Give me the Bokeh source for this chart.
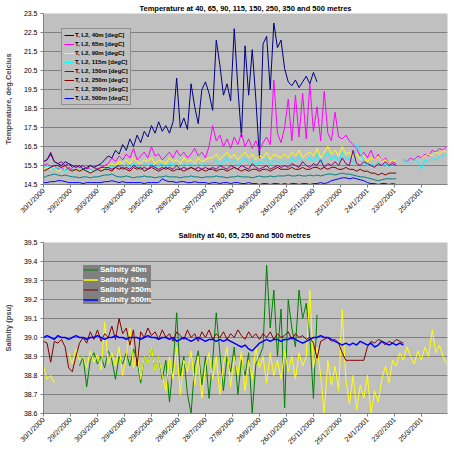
import math
from datetime import date

from bokeh.embed import file_html
from bokeh.layouts import column
from bokeh.models import (FixedTicker, Legend, LegendItem,
                          NumeralTickFormatter, Range1d)
from bokeh.plotting import figure
from bokeh.resources import INLINE

# ---------------------------------------------------------------- data
START = date(2000, 1, 30)          # day 0 of the record
STEP = 4                           # days between plotted samples

date_labels = ["30/1/2000", "29/2/2000", "30/3/2000", "29/4/2000", "29/5/2000",
               "28/6/2000", "28/7/2000", "27/8/2000", "26/9/2000", "26/10/2000",
               "25/11/2000", "25/12/2000", "24/1/2001", "23/2/2001", "25/3/2001"]

temp_ticks = [14.5, 15.5, 16.5, 17.5, 18.5, 19.5, 20.5, 21.5, 22.5, 23.5]
sal_ticks = [38.6, 38.7, 38.8, 38.9, 39.0, 39.1, 39.2, 39.3, 39.4, 39.5]

# temperature (degC), one sample every STEP days from day 0
t40 = [15.7, 15.8, 16.1, 15.7, 15.6, 15.5, 15.7, 15.6, 15.5, 15.4,
       15.5, 15.3, 15.4, 15.5, 15.4, 15.5, 15.6, 15.8, 16.0, 15.9,
       16.3, 16.1, 16.6, 16.3, 16.9, 16.5, 17.1, 16.7, 17.3, 17.0,
       17.6, 17.2, 17.8, 17.3, 17.6, 17.2, 17.8, 20.1, 17.5, 18.0,
       17.4, 19.8, 18.6, 17.7, 19.5, 19.9, 19.3, 18.4, 22.1, 20.8,
       19.2, 19.8, 18.9, 22.7, 19.6, 17.0, 21.8, 19.2, 21.6, 19.0,
       15.9, 21.9, 22.3, 19.5, 23.0, 21.7, 22.1, 20.6, 19.9, 19.7,
       20.0, 19.6, 19.9, 20.2, 19.8, 20.4, 19.9]

t65 = [15.5, 15.6, 15.4, 15.5, 15.3, 15.4, 15.2, 15.4, 15.3, 15.2, 15.3, 15.2, 15.4, 15.3, 15.2, 15.3, 15.4, 15.5,
       15.6, 15.9, 15.7, 16.0, 15.8, 16.1, 15.9, 16.4, 15.8, 16.0, 16.2, 15.9, 16.5, 16.0, 16.1, 15.8, 16.0,
       16.2, 15.9, 16.3, 16.0, 16.2, 15.9, 16.1, 16.4, 16.0, 16.2, 15.9, 16.5,
       17.6, 16.8, 17.1, 16.5, 16.9, 16.4, 17.0, 16.6, 17.2, 16.5, 16.9, 16.4, 16.8, 16.3, 16.7, 17.0, 16.6,
       20.0, 17.2, 16.7,
       17.5, 19.0, 16.8, 19.2, 17.0, 19.3, 16.9, 19.8, 17.3, 18.6, 16.8, 19.4, 17.2, 16.8, 18.3, 17.0,
       16.9, 17.1, 16.8, 16.6, 16.4, 16.0, 16.2, 15.9, 16.3, 15.8, 16.1, 15.7, 15.9, 15.6, 15.7, 15.6]
t65_tail_start = 400
t65_tail = [15.8, 15.7, 15.9, 15.8, 16.0, 15.9, 16.1, 16.0, 16.3, 16.2, 16.4, 16.3, 16.5]

t90 = [15.3, 15.4, 15.3, 15.4, 15.2, 15.3, 15.2, 15.3, 15.2, 15.2, 15.3, 15.2, 15.3, 15.2, 15.2, 15.3, 15.3, 15.4,
       15.5, 15.6, 15.5, 15.7, 15.6, 15.8, 15.6, 15.9, 15.7, 15.6, 15.8, 15.7, 15.9, 15.6, 15.8, 15.7, 15.6,
       15.9, 15.7, 15.8, 15.6, 15.9, 15.7, 15.8, 15.6, 15.9, 15.7, 15.8, 15.9,
       15.9, 16.1, 15.8, 16.0, 16.2, 15.9, 16.1, 15.8, 16.0, 16.2, 15.9, 16.1, 15.8, 16.0, 15.9, 16.2, 15.8,
       16.1, 16.0, 15.9,
       16.1, 15.9, 16.2, 16.0, 16.3, 15.9, 16.1, 16.2, 16.0, 16.4, 15.9, 16.2, 16.5, 16.1, 16.3, 16.0,
       16.5, 16.1, 16.2, 15.9, 16.1, 15.8, 16.0, 15.7, 15.9, 15.8, 16.0, 15.7, 15.8, 15.6, 15.8, 15.7]
t90_tail_start = 420
t90_tail = [15.9, 16.0, 16.1, 16.0, 16.2, 16.1, 16.3, 16.2]

t115 = [15.4, 15.5, 15.4, 15.3, 15.4, 15.3, 15.2, 15.3, 15.2, 15.3, 15.2, 15.3, 15.2, 15.3, 15.2, 15.2, 15.3, 15.3,
        15.4, 15.5, 15.4, 15.5, 15.4, 15.6, 15.4, 15.6, 15.5, 15.4, 15.6, 15.5, 15.6, 15.4, 15.5, 15.6, 15.4,
        15.6, 15.5, 15.6, 15.4, 15.6, 15.5, 15.6, 15.4, 15.6, 15.5, 15.6, 15.6,
        15.6, 15.8, 15.5, 15.7, 15.9, 15.6, 15.8, 15.5, 15.7, 15.9, 15.6, 15.8, 15.5, 15.7, 15.6, 15.9, 15.5,
        15.8, 15.7, 15.6,
        15.8, 15.6, 15.9, 15.7, 16.0, 15.6, 15.8, 15.9, 15.7, 16.1, 15.6, 15.9, 16.2, 15.8, 16.0, 15.7,
        16.2, 15.8, 15.9, 15.6, 16.6, 16.3, 15.7, 15.5, 15.6, 15.5, 15.7, 15.5, 15.6, 15.4, 15.6, 15.5]
t115_tail_start = 400
t115_tail = [15.8, 15.7, 15.6, 15.8, 15.7, 15.3, 15.8, 15.7, 15.9, 15.8, 15.9, 16.0, 16.1]

t150 = [15.7, 15.8, 16.2, 15.7, 15.6, 15.7, 15.5, 15.6, 15.4, 15.5, 15.4, 15.5, 15.3, 15.5, 15.4, 15.3, 15.4, 15.4,
        15.4, 15.3, 15.4, 15.5, 15.3, 15.4, 15.3, 15.5, 15.4, 15.3, 15.4, 15.3, 15.5, 15.4, 15.3, 15.4, 15.3,
        15.4, 15.3, 15.5, 15.3, 15.4, 15.3, 15.4, 15.3, 15.4, 15.3, 15.4, 15.3,
        15.4, 15.3, 15.5, 15.4, 15.3, 15.5, 15.4, 15.3, 15.5, 15.4, 15.3, 15.6, 15.4, 15.3, 15.4, 15.5, 15.3,
        15.4, 15.5, 15.4,
        15.5, 15.4, 15.6, 15.5, 15.4, 15.7, 15.5, 15.4, 15.6, 15.5, 15.8, 15.4, 15.6, 15.5, 15.7, 15.5,
        15.9, 15.6, 15.5, 16.3, 15.6, 15.5, 15.7, 15.6, 15.5, 15.4, 15.6, 15.5, 15.7, 15.5, 15.6, 15.5]

t250 = [15.2, 15.3, 15.4, 15.5, 15.5, 15.4, 15.5, 15.3, 15.2, 15.3, 15.2, 15.3, 15.2, 15.1, 15.2, 15.3, 15.2, 15.3,
        15.3, 15.2, 15.4, 15.3, 15.4, 15.3, 15.2, 15.4, 15.3, 15.4, 15.2, 15.3, 15.4, 15.3, 15.2, 15.3, 15.4,
        15.3, 15.2, 15.3, 15.3, 15.2, 15.3, 15.4, 15.3, 15.2, 15.3, 15.2, 15.3,
        15.3, 15.2, 15.3, 15.3, 15.2, 15.3, 15.4, 15.3, 15.2, 15.3, 15.2, 15.3, 15.3, 15.2, 15.3, 15.3, 15.2,
        15.3, 15.4, 15.3,
        15.3, 15.3, 15.4, 15.3, 15.3, 15.4, 15.3, 15.3, 15.4, 15.4, 15.3, 15.4, 15.3, 15.4, 15.4, 15.3,
        15.3, 15.4, 15.3, 15.3, 15.2, 15.3, 15.2, 15.2, 15.1, 15.1, 15.0, 15.1, 15.0, 15.1, 15.1, 15.1]

t350 = [14.85, 14.95, 15.0, 15.05, 15.0, 14.95, 15.0, 14.95, 14.9, 14.9, 14.85, 14.9, 14.9, 14.85, 14.9, 14.9,
        14.95, 15.0,
        15.0, 15.05, 14.95, 14.9, 14.9, 14.95, 14.9, 14.85, 14.9, 14.9, 14.95, 14.9, 14.9, 14.85, 14.9, 14.9,
        14.95, 14.9, 14.9, 14.9, 14.85, 14.9, 14.9, 14.95, 14.9, 14.9, 14.85, 14.9, 14.9,
        14.9, 14.95, 14.9, 14.9, 14.85, 14.9, 14.9, 14.95, 14.9, 14.9, 14.9, 14.85, 14.9, 14.95, 14.9, 14.9,
        14.95, 14.9, 14.95, 14.95,
        14.95, 15.0, 14.95, 14.95, 15.0, 14.95, 14.95, 15.0, 14.95, 15.0, 14.95, 15.0, 15.05, 15.05, 15.0,
        15.05, 15.1, 15.05, 15.05, 15.0, 14.95, 14.9, 14.9, 14.85, 14.8, 14.75, 14.7, 14.75, 14.8, 14.8,
        14.8, 14.8]

t500 = [14.6, 14.6, 14.65, 14.65, 14.7, 14.7, 14.65, 14.6, 14.6, 14.6, 14.6, 14.55, 14.6, 14.6, 14.6, 14.6,
        14.6, 14.65,
        14.65, 14.7, 14.65, 14.6, 14.65, 14.6, 14.6, 14.6, 14.6, 14.6, 14.55, 14.6, 14.6, 14.6, 14.6, 14.8,
        14.7, 14.65, 14.65, 14.6, 14.65, 14.65, 14.6, 14.6, 14.65, 14.6, 14.6, 14.6, 14.55,
        14.6, 14.6, 14.55, 14.6, 14.6, 14.55, 14.6, 14.6, 14.55, 14.55, 14.6, 14.55, 14.55, 14.5, 14.55,
        14.55, 14.5, 14.55, 14.55, 14.5,
        14.55, 14.5, 14.55, 14.55, 14.5, 14.55, 14.55, 14.5, 14.55, 14.55, 14.6, 14.55, 14.6, 14.7, 14.75,
        14.8, 14.85, 14.85, 14.8, 14.85, 14.8, 14.75, 14.7, 14.6, 14.55, 14.55, 14.5, 14.55, 14.55, 14.5,
        14.55, 14.5]

# salinity (psu)
s40_start = 40
s40 = [38.85, 38.9, 38.74, 38.88, 38.92, 38.86, 38.9, 38.84, 38.93, 38.88, 38.78, 38.9, 38.86,
       38.92, 38.85, 38.94, 38.88, 38.76, 38.9, 38.86, 38.95, 38.82, 38.9, 38.78, 38.88, 38.66,
       38.85, 39.13, 38.8, 38.9, 38.7, 38.6, 38.85, 38.93, 38.75, 38.9, 38.68, 38.88, 39.13, 38.92,
       38.72, 38.9, 38.82, 38.95, 38.7, 38.88, 38.8, 38.92, 38.6, 38.86, 38.9, 38.95,
       39.38, 39.05, 39.25, 38.9, 39.15, 38.63, 39.2, 39.05, 38.95, 39.25, 39.1, 39.18, 39.0, 38.68,
       39.12]

s65_head = [38.85, 38.78, 38.8, 38.76]
s65_start = 28
s65 = [38.92, 38.86, 38.94, 38.88, 38.9, 38.84, 38.93, 38.87, 38.91, 38.83, 39.08, 38.86, 38.92,
       38.85, 38.95, 38.8, 38.9, 39.05, 38.84, 38.92, 38.78, 38.9, 38.86, 38.95, 38.82, 38.9, 38.8,
       38.72, 38.9, 38.78, 38.95, 38.7, 38.88, 38.82, 38.93, 38.75, 38.9, 38.68, 38.85, 38.92, 38.78,
       38.9, 38.7, 38.86, 38.95, 38.74,
       38.9, 38.8, 38.93, 38.72, 38.88, 38.78, 38.95, 38.84, 38.9, 38.76, 38.92, 38.8, 38.88, 38.78,
       38.93, 38.82,
       38.9, 38.78, 38.92, 38.85, 38.9, 39.25, 38.84, 38.95, 38.8,
       38.6, 38.88, 38.75, 38.85, 38.72, 39.15, 38.78, 38.65, 38.8, 38.62, 38.75, 38.68, 38.8, 38.6,
       38.72, 38.66, 38.78, 38.85, 38.76, 38.88,
       38.85, 38.92, 38.88, 38.95, 38.9, 38.86, 38.93, 38.88, 38.95, 38.9, 39.04, 38.92, 38.96, 38.9,
       38.86]

s250 = [38.98, 38.97, 38.87, 38.98, 38.97, 38.99, 38.95, 38.84, 38.82, 38.9, 38.97,
        39.0, 38.97, 39.03, 38.99, 39.04, 38.98, 39.02, 39.0, 39.06, 38.99, 39.1, 39.02, 39.05, 38.96,
        39.04, 38.85, 39.03, 39.0, 39.05, 39.01,
        39.03, 38.99, 39.04, 39.0, 39.02, 38.98, 39.03, 39.01, 38.99, 39.04, 39.0, 39.02, 38.98, 39.03,
        39.0, 39.04, 38.99, 39.02, 39.0, 39.03, 38.99, 39.02, 39.0, 39.04, 39.01, 38.99, 39.03, 39.0,
        39.02, 38.99,
        39.02, 39.0, 39.03, 38.99, 39.02, 39.0, 39.01, 39.03, 38.99, 39.02, 39.0, 39.01, 38.99, 39.0,
        38.97,
        38.89, 38.98, 38.99, 39.0, 38.98, 38.99, 38.97, 38.92, 38.88, 38.88, 38.88, 38.88, 38.88, 38.88,
        38.95, 38.98, 38.97, 38.99, 38.98, 38.96, 38.98, 38.97, 38.99, 38.98, 38.97]

s500 = [39.0, 39.01, 39.0, 38.99, 39.01, 39.0, 39.0, 38.99, 39.0, 39.01, 39.0, 39.0, 38.99, 39.0, 39.0,
        39.01, 39.0, 38.99, 39.0, 39.0, 39.01, 39.0, 39.0, 38.99, 39.0, 39.0, 39.0, 38.99, 39.0, 39.01,
        39.0,
        39.0, 38.99, 39.0, 39.0, 38.99, 39.0, 38.98, 38.99, 39.0, 38.99, 38.98, 38.99, 39.0, 38.99, 38.98,
        38.99, 38.99, 38.98, 38.99, 38.98, 38.99, 38.98,
        38.97, 38.96, 38.95, 38.96, 38.94, 38.93, 38.95, 38.97,
        38.98, 38.99, 38.98, 38.99, 38.99, 38.98, 38.99, 38.99, 39.0, 38.99, 38.98, 38.97, 38.98, 38.99,
        39.0, 39.0, 39.01, 39.0, 39.0, 38.99, 38.98, 38.97, 38.96, 38.97, 38.96,
        38.97, 38.96, 38.98, 38.97, 38.96, 38.97, 38.95, 38.96, 38.98, 38.97, 38.96, 38.97, 38.96, 38.97,
        38.96]


def to_day(label):
    d, m, y = (int(v) for v in label.split("/"))
    return (date(y, m, d) - START).days


def sample_days(start, vals):
    return [start + STEP * i for i in range(len(vals))]


tick_days = [to_day(s) for s in date_labels]
X_END = 449

# ---------------------------------------------------------------- styling
FONT = "Liberation Sans"
GRID = "#808080"
PLOT_BG = "#C0C0C0"


def base_figure(height, y_lo, y_hi, y_ticks, y_label, title, top, bottom, title_standoff):
    p = figure(width=454, height=height, output_backend="svg", toolbar_location=None,
               x_range=Range1d(0, X_END), y_range=Range1d(y_lo, y_hi),
               min_border_left=37, min_border_right=7,
               min_border_top=top, min_border_bottom=bottom)
    p.background_fill_color = PLOT_BG
    p.border_fill_color = "white"
    p.outline_line_color = None
    p.xgrid.grid_line_color = None
    p.ygrid.grid_line_color = GRID
    p.ygrid.ticker = FixedTicker(ticks=y_ticks)

    p.title.text = title
    p.title.align = "center"
    p.title.offset = -22
    p.title.standoff = title_standoff
    p.title.text_font = FONT
    p.title.text_font_size = "7.5px"
    p.title.text_font_style = "bold"
    p.title.text_color = "black"

    for ax in (p.xaxis[0], p.yaxis[0]):
        ax.axis_line_color = GRID
        ax.major_tick_line_color = GRID
        ax.major_tick_in = 0
        ax.major_tick_out = 3
        ax.minor_tick_line_color = None
        ax.major_label_text_font = FONT
        ax.major_label_text_font_size = "7px"
        ax.major_label_text_color = "black"

    p.yaxis.ticker = FixedTicker(ticks=y_ticks)
    p.yaxis.formatter = NumeralTickFormatter(format="0.0")
    p.yaxis.major_label_standoff = 3
    p.yaxis.axis_label = y_label
    p.yaxis.axis_label_text_font = FONT
    p.yaxis.axis_label_text_font_size = "7.5px"
    p.yaxis.axis_label_text_font_style = "bold"
    p.yaxis.axis_label_standoff = 8

    p.xaxis.ticker = FixedTicker(ticks=tick_days)
    p.xaxis.major_label_overrides = {d: s for d, s in zip(tick_days, date_labels)}
    p.xaxis.major_label_orientation = math.pi / 4
    p.xaxis.major_label_standoff = 2
    return p


# ---------------------------------------------------------------- temperature
pt = base_figure(225, 14.5, 23.5, temp_ticks, "Temperature, deg.Celcius",
                 "Temperature at 40, 65, 90, 115, 150, 250, 350 and 500 metres", 12, 41, 2)

temp_series = [
    ("T, L2, 40m [degC]", "#000080", [(0, t40)]),
    ("T, L2, 65m [degC]", "#FF00FF", [(0, t65), (t65_tail_start, t65_tail)]),
    ("T, L2, 90m [degC]", "#FFFF00", [(0, t90), (t90_tail_start, t90_tail)]),
    ("T, L2, 115m [degC]", "#00FFFF", [(0, t115), (t115_tail_start, t115_tail)]),
    ("T, L2, 150m [degC]", "#800080", [(0, t150)]),
    ("T, L2, 250m [degC]", "#800000", [(0, t250)]),
    ("T, L2, 350m [degC]", "#008080", [(0, t350)]),
    ("T, L2, 500m [degC]", "#0000FF", [(0, t500)]),
]
t_items = []
for name, color, parts in temp_series:
    rs = [pt.line(sample_days(s, v), v, line_color=color, line_width=1) for s, v in parts]
    t_items.append(LegendItem(label=name, renderers=rs))

t_legend = Legend(items=t_items, location=(18, 79),
                  background_fill_color=PLOT_BG, background_fill_alpha=1,
                  border_line_color="#606060", border_line_width=1,
                  label_text_font=FONT, label_text_font_size="6px",
                  label_text_font_style="bold", label_text_color="black",
                  label_height=8, glyph_height=8, glyph_width=10,
                  label_standoff=1, spacing=1, padding=2, margin=0)
pt.add_layout(t_legend)

# ---------------------------------------------------------------- salinity
ps = base_figure(226, 38.6, 39.5, sal_ticks, "Salinity (psu)",
                 "Salinity at 40, 65,  250 and 500 metres", 16, 38, 6)

sal_series = [
    ("Salinity 40m", "#008000", [(s40_start, s40)]),
    ("Salinity 65m", "#FFFF00", [(0, s65_head), (s65_start, s65)]),
    ("Salinity 250m", "#800000", [(0, s250)]),
    ("Salinity 500m", "#0000FF", [(0, s500)]),
]
s_items = []
for name, color, parts in sal_series:
    rs = [ps.line(sample_days(s, v), v, line_color=color, line_width=1.5 if "500" in name else 1)
          for s, v in parts]
    s_items.append(LegendItem(label=name, renderers=rs))

s_legend = Legend(items=s_items, location=(40, 109),
                  background_fill_color="#808080", background_fill_alpha=1,
                  border_line_color=None,
                  label_text_font=FONT, label_text_font_size="8px",
                  label_text_font_style="bold", label_text_color="white",
                  label_height=9, glyph_height=9, glyph_width=15,
                  label_standoff=2, spacing=1, padding=2, margin=0)
ps.add_layout(s_legend)

layout = column(pt, ps, spacing=0)
open("out.html", "w").write(file_html(layout, INLINE))
